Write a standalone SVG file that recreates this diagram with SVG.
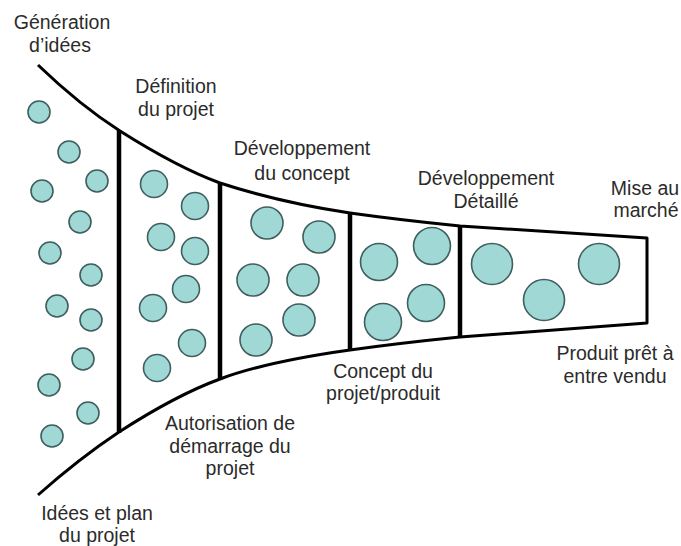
<svg xmlns="http://www.w3.org/2000/svg" width="681" height="546" viewBox="0 0 681 546">
<style>
.bg{fill:#ffffff}
.edge{fill:none;stroke:#000;stroke-width:3;stroke-linejoin:round}
.div{fill:none;stroke:#000;stroke-width:4.5}
.c{fill:#a0d8d5;stroke:#3f5e5e;stroke-width:1.6}
text{font-family:"Liberation Sans",Arial,sans-serif;font-size:19.5px;fill:#2b2b2b;text-anchor:middle}
</style>
<rect class="bg" x="0" y="0" width="681" height="546"/>
<g id="connectors">
<path class="edge" d="M38,65 C65,91 95,115 120,131 C150,150 190,172 220,183 C260,196 310,207 350,213 C390,218.6 425,222.5 460,226 L647,238 L647,323 L460,337 C425,340.5 390,344.4 350,350 C310,355.6 260,364 220,379 C190,390 150,412 119,432 C95,448 65,471 38,495"/>
<line class="div" x1="119" y1="130" x2="119" y2="433"/>
<line class="div" x1="220" y1="182" x2="220" y2="380"/>
<line class="div" x1="350" y1="212" x2="350" y2="351"/>
<line class="div" x1="460" y1="225" x2="460" y2="338"/>
</g>
<g id="stage1">
<circle class="c" cx="39" cy="112" r="11"/>
<circle class="c" cx="69" cy="152" r="11"/>
<circle class="c" cx="97" cy="181" r="11"/>
<circle class="c" cx="42" cy="191" r="11"/>
<circle class="c" cx="80" cy="222" r="11"/>
<circle class="c" cx="50" cy="253" r="11"/>
<circle class="c" cx="91" cy="275" r="11"/>
<circle class="c" cx="57" cy="306" r="11"/>
<circle class="c" cx="91" cy="320" r="11"/>
<circle class="c" cx="83" cy="359" r="11"/>
<circle class="c" cx="49" cy="385" r="11"/>
<circle class="c" cx="88" cy="413" r="11"/>
<circle class="c" cx="52" cy="436" r="11"/>
</g>
<g id="stage2">
<circle class="c" cx="154" cy="184" r="13.5"/>
<circle class="c" cx="195" cy="206" r="13.5"/>
<circle class="c" cx="161" cy="237" r="13.5"/>
<circle class="c" cx="195" cy="251" r="13.5"/>
<circle class="c" cx="186" cy="289" r="13.5"/>
<circle class="c" cx="153" cy="308" r="13.5"/>
<circle class="c" cx="192" cy="343" r="13.5"/>
<circle class="c" cx="157" cy="368" r="13.5"/>
</g>
<g id="stage3">
<circle class="c" cx="267" cy="223" r="16"/>
<circle class="c" cx="319" cy="237" r="16"/>
<circle class="c" cx="253" cy="280" r="16"/>
<circle class="c" cx="303" cy="280" r="16"/>
<circle class="c" cx="299" cy="320" r="16"/>
<circle class="c" cx="256" cy="340" r="16"/>
</g>
<g id="stage4">
<circle class="c" cx="379" cy="262" r="18.5"/>
<circle class="c" cx="432" cy="246" r="18.5"/>
<circle class="c" cx="383" cy="322" r="18.5"/>
<circle class="c" cx="426" cy="303" r="18.5"/>
</g>
<g id="stage5">
<circle class="c" cx="492" cy="264" r="20.5"/>
<circle class="c" cx="544" cy="300" r="20.5"/>
<circle class="c" cx="599" cy="264" r="20.5"/>
</g>
<g id="labels">
<text x="62" y="29">Génération</text>
<text x="60" y="52">d’idées</text>
<text x="176" y="93">Définition</text>
<text x="176" y="116">du projet</text>
<text x="302" y="155">Développement</text>
<text x="302" y="180">du concept</text>
<text x="486" y="185">Développement</text>
<text x="486" y="208">Détaillé</text>
<text x="645" y="195">Mise au</text>
<text x="646" y="217">marché</text>
<text x="615" y="360">Produit prêt à</text>
<text x="615" y="383">entre vendu</text>
<text x="383" y="378">Concept du</text>
<text x="383" y="400">projet/produit</text>
<text x="230" y="430">Autorisation de</text>
<text x="230" y="453">démarrage du</text>
<text x="230" y="475">projet</text>
<text x="97" y="520">Idées et plan</text>
<text x="97" y="542">du projet</text>
</g>
</svg>
